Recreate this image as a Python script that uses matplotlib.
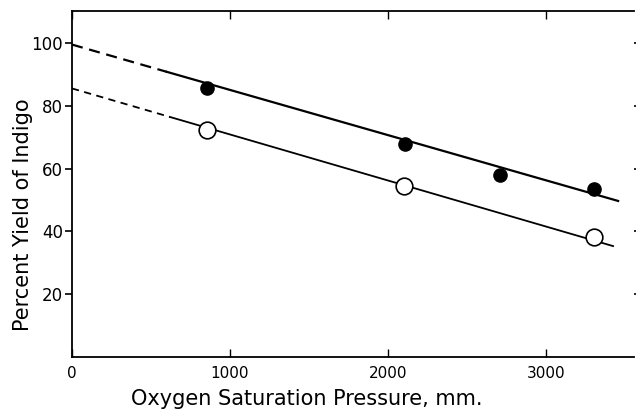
import matplotlib
matplotlib.use("Agg")
import matplotlib.pyplot as plt
import numpy as np

# Data
filled_x = [853, 2106, 2708, 3304]
filled_y = [85.6, 67.8, 58.0, 53.4]
open_x = [853, 2102, 3304]
open_y = [72.3, 54.5, 38.3]

# fitted lines (endpoints)
upper_line_x = [0, 600, 3458]
upper_line_y = [99.6, 90.9, 49.7]
lower_line_x = [0, 620, 3426]
lower_line_y = [85.6, 76.5, 35.3]

xticks = [0, 1000, 2000, 3000]
yticks = [20, 40, 60, 80, 100]

plt.rcParams['font.family'] = ['DejaVu Sans']
fig = plt.figure(figsize=(6.36, 4.13), dpi=100)
ax = fig.add_axes([0.1132, 0.1363, 0.884, 0.837])

ax.plot(upper_line_x[:2], upper_line_y[:2], color='black', lw=1.6, ls=(0, (5, 3)))
ax.plot(upper_line_x[1:], upper_line_y[1:], color='black', lw=1.6)
ax.plot(lower_line_x[:2], lower_line_y[:2], color='black', lw=1.3, ls=(0, (4, 3)))
ax.plot(lower_line_x[1:], lower_line_y[1:], color='black', lw=1.3)

ax.plot(filled_x, filled_y, 'o', color='black', markersize=9.5, zorder=5)
ax.plot(open_x, open_y, 'o', markerfacecolor='white', markeredgecolor='black',
        markeredgewidth=1.2, markersize=12, zorder=5)

ax.set_xlim(0, 3560)
ax.set_ylim(0, 110.3)
ax.set_xticks(xticks)
ax.set_yticks(yticks)
ax.tick_params(axis='y', direction='out', length=5, width=1.2, labelsize=12, pad=1.5)
ax.tick_params(axis='x', direction='in', length=6, width=1.0, labelsize=11, pad=6.5, top=True)
ax.tick_params(axis='y', right=True, which='both')
ax.spines['right'].set_visible(False)
for s in ['left', 'bottom', 'top']:
    ax.spines[s].set_linewidth(1.3)

ax.set_xlabel('Oxygen Saturation Pressure, mm.', fontsize=15)
ax.set_ylabel('Percent Yield of Indigo', fontsize=15)
ax.xaxis.set_label_coords(0.417, -0.093)
ax.xaxis.label.set_va('top')
ax.yaxis.set_label_coords(-0.069, 0.41)

fig.savefig('out.png', dpi=100)
